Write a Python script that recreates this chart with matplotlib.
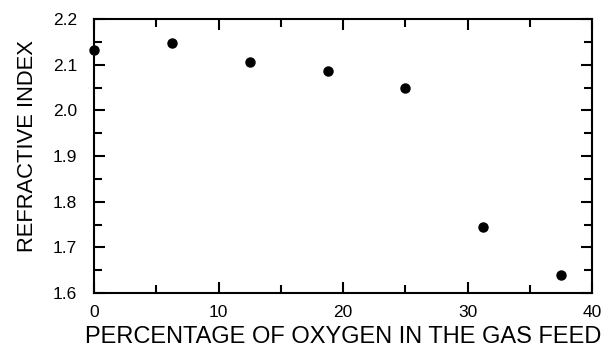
import matplotlib
matplotlib.use('Agg')
import matplotlib.pyplot as plt
from matplotlib.ticker import MultipleLocator

plt.rcParams['font.family'] = ['Liberation Sans', 'DejaVu Sans']

# oxygen percentage in the feed and measured refractive index
OXYGEN_PCT = [0, 6.25, 12.5, 18.75, 25, 31.25, 37.5]
REFRACTIVE_INDEX = [2.132, 2.148, 2.105, 2.086, 2.050, 1.744, 1.639]

X_TICKS = [0, 10, 20, 30, 40]
Y_TICKS = [1.6, 1.7, 1.8, 1.9, 2.0, 2.1, 2.2]


def main():
    fig = plt.figure(figsize=(6.02, 3.53), dpi=100)
    ax = fig.add_axes([0.156, 0.170, 0.828, 0.776])

    ax.plot(OXYGEN_PCT, REFRACTIVE_INDEX, 'o', color='black', markersize=6.5,
            clip_on=False, zorder=5)

    ax.set_xlim(0, 40)
    ax.set_ylim(1.6, 2.2)
    ax.set_xticks(X_TICKS)
    ax.set_yticks(Y_TICKS)
    ax.set_yticklabels([f"{v:.1f}" for v in Y_TICKS])
    ax.xaxis.set_minor_locator(MultipleLocator(5))
    ax.yaxis.set_minor_locator(MultipleLocator(0.05))

    for s in ax.spines.values():
        s.set_linewidth(1.5)
    ax.tick_params(which='both', direction='in', top=True, right=True,
                   width=1.5, labelsize=12.5)
    ax.tick_params(axis='x', which='major', length=8, pad=9)
    ax.tick_params(axis='y', which='major', length=8, pad=12)
    ax.tick_params(which='minor', length=6)

    ax.set_xlabel('PERCENTAGE OF OXYGEN IN THE GAS FEED', fontsize=17, labelpad=4)
    ax.set_ylabel('REFRACTIVE INDEX', fontsize=15.8, labelpad=11, y=0.535)

    fig.savefig('out.png', dpi=100)


if __name__ == "__main__":
    main()
